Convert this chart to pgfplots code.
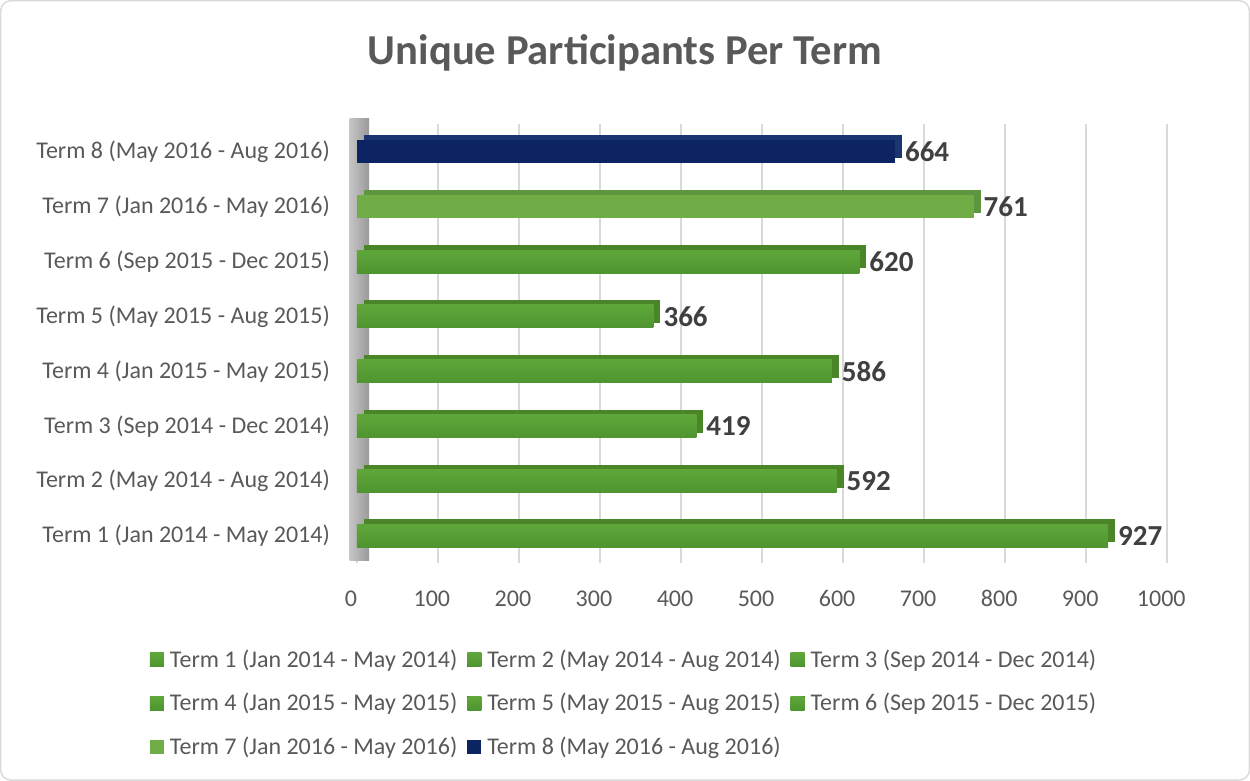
\documentclass[border=0pt]{standalone}
\usepackage{pgfplots}
\pgfplotsset{compat=1.18}
\usepackage{fontspec}
\setmainfont{Carlito}
\definecolor{gfront}{HTML}{64AE3B}
\definecolor{gtop}{HTML}{5FA63A}
\definecolor{gbot}{HTML}{4E9530}
\definecolor{gdark}{HTML}{4A8528}
\definecolor{gsev}{HTML}{70AD47}
\definecolor{gsevdark}{HTML}{5E9640}
\definecolor{navy}{HTML}{0D2463}
\definecolor{navydark}{HTML}{1B3571}
\definecolor{txt}{HTML}{595959}
\definecolor{lbl}{HTML}{404040}
\definecolor{gridc}{HTML}{D9D9D9}
\pgfplotsset{
  backbar/.style={forget plot, draw=none, fill=#1, xshift=3.5pt, yshift=2.5pt, nodes near coords={}},
  frontbar/.style={draw=none, top color=gtop, middle color=gfront, bottom color=gbot},
}
\begin{document}
\begin{tikzpicture}
\draw[rounded corners=5pt, color=gridc, line width=0.7pt] (0.5pt,0.5pt) rectangle (624.5pt,390pt);
\node[font=\fontsize{21.3}{25}\selectfont\bfseries, text=txt] at (312.5pt,364pt) {Unique Participants Per Term};
\begin{axis}[
  at={(178.5pt,108.8pt)}, anchor=south west,
  scale only axis, width=405pt, height=219.4pt,
  xmin=0, xmax=1000, ymin=0.5, ymax=8.5,
  xbar, bar width=11.5pt, bar shift=0pt,
  clip=false,
  axis line style={draw=none},
  major tick length=0pt,
  xtick={0,100,...,1000},
  ytick={1,...,8},
  yticklabels={Term 1 (Jan 2014 - May 2014),Term 2 (May 2014 - Aug 2014),Term 3 (Sep 2014 - Dec 2014),Term 4 (Jan 2015 - May 2015),Term 5 (May 2015 - Aug 2015),Term 6 (Sep 2015 - Dec 2015),Term 7 (Jan 2016 - May 2016),Term 8 (May 2016 - Aug 2016)},
  ticklabel style={font=\fontsize{12}{14}\selectfont, text=txt},
  /pgf/number format/assume math mode=true,
  /pgf/number format/1000 sep={},
  xticklabel style={yshift=-10pt, xshift=-3pt},
  yticklabel style={xshift=-10pt},
  xmajorgrids, grid style={color=gridc, line width=1pt},
  nodes near coords,
  every node near coord/.append style={font=\fontsize{14.5}{16}\selectfont\bfseries, text=lbl, xshift=1.5pt},
  every axis plot post/.append style={legend image code/.code={\fill[##1] (0pt,-3.5pt) rectangle (7pt,3.5pt);}},
  legend columns=3,
  legend style={at={(0.331,-0.177)}, anchor=north, draw=none, fill=none,
    font=\fontsize{12}{14}\selectfont, text=txt, row sep=7.5pt,
    /tikz/every odd column/.append style={column sep=1pt},
    /tikz/every even column/.append style={column sep=3pt}},
  legend cell align=left,
]
\fill[left color=gray!45, right color=gray!80] (axis cs:-9,0.55) rectangle (axis cs:15,8.6);
\addplot[backbar=gdark] coordinates {(927,1)};
\addplot[frontbar] coordinates {(927,1)};
\addplot[backbar=gdark] coordinates {(592,2)};
\addplot[frontbar] coordinates {(592,2)};
\addplot[backbar=gdark] coordinates {(419,3)};
\addplot[frontbar] coordinates {(419,3)};
\addplot[backbar=gdark] coordinates {(586,4)};
\addplot[frontbar] coordinates {(586,4)};
\addplot[backbar=gdark] coordinates {(366,5)};
\addplot[frontbar] coordinates {(366,5)};
\addplot[backbar=gdark] coordinates {(620,6)};
\addplot[frontbar] coordinates {(620,6)};
\addplot[backbar=gsevdark] coordinates {(761,7)};
\addplot[draw=none, fill=gsev] coordinates {(761,7)};
\addplot[backbar=navydark] coordinates {(664,8)};
\addplot[draw=none, fill=navy] coordinates {(664,8)};
\legend{Term 1 (Jan 2014 - May 2014),Term 2 (May 2014 - Aug 2014),Term 3 (Sep 2014 - Dec 2014),Term 4 (Jan 2015 - May 2015),Term 5 (May 2015 - Aug 2015),Term 6 (Sep 2015 - Dec 2015),Term 7 (Jan 2016 - May 2016),Term 8 (May 2016 - Aug 2016)}
\end{axis}
\end{tikzpicture}
\end{document}
